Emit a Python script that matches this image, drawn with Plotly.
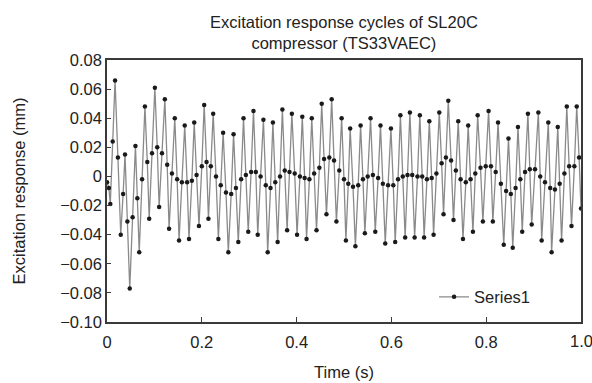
import plotly.graph_objects as go

# Time samples (s) and excitation response (mm)
time_s = [
    0.000, 0.004, 0.007, 0.012, 0.017, 0.023, 0.029, 0.034, 0.038, 0.043,
    0.048, 0.054, 0.060, 0.064, 0.068, 0.074, 0.080, 0.085, 0.089, 0.095,
    0.101, 0.106, 0.110, 0.116, 0.122, 0.127, 0.131, 0.137, 0.143, 0.148,
    0.152, 0.158, 0.164, 0.169, 0.173, 0.179, 0.184, 0.189, 0.194, 0.200,
    0.205, 0.210, 0.214, 0.219, 0.224, 0.230, 0.235, 0.240, 0.245, 0.251,
    0.256, 0.262, 0.267, 0.272, 0.277, 0.283, 0.288, 0.293, 0.298, 0.304,
    0.309, 0.314, 0.318, 0.324, 0.330, 0.335, 0.339, 0.345, 0.350, 0.355,
    0.360, 0.365, 0.370, 0.375, 0.380, 0.385, 0.390, 0.396, 0.401, 0.407,
    0.412, 0.417, 0.421, 0.427, 0.432, 0.437, 0.442, 0.448, 0.453, 0.458,
    0.463, 0.469, 0.474, 0.479, 0.484, 0.490, 0.495, 0.500, 0.504, 0.509,
    0.513, 0.519, 0.524, 0.530, 0.535, 0.540, 0.544, 0.550, 0.556, 0.561,
    0.566, 0.572, 0.577, 0.582, 0.587, 0.593, 0.599, 0.604, 0.608, 0.614,
    0.619, 0.624, 0.629, 0.634, 0.639, 0.644, 0.649, 0.655, 0.660, 0.665,
    0.669, 0.675, 0.680, 0.685, 0.689, 0.695, 0.701, 0.706, 0.710, 0.715,
    0.720, 0.726, 0.731, 0.736, 0.741, 0.746, 0.751, 0.757, 0.762, 0.767,
    0.772, 0.777, 0.782, 0.788, 0.793, 0.799, 0.805, 0.810, 0.814, 0.820,
    0.825, 0.831, 0.837, 0.842, 0.847, 0.852, 0.856, 0.862, 0.867, 0.872,
    0.876, 0.882, 0.888, 0.892, 0.896, 0.903, 0.910, 0.914, 0.917, 0.924,
    0.931, 0.935, 0.938, 0.945, 0.951, 0.955, 0.959, 0.965, 0.970, 0.975,
    0.980, 0.986, 0.991, 0.996, 1.000,
]
response_mm = [
    -0.004, -0.008, -0.019, 0.024, 0.066, 0.013, -0.040, -0.012, 0.015, -0.031,
    -0.077, -0.028, 0.021, -0.015, -0.052, -0.002, 0.048, 0.010, -0.029, 0.016,
    0.061, 0.020, -0.021, 0.016, 0.053, 0.008, -0.036, 0.002, 0.040, -0.002,
    -0.044, -0.004, 0.035, -0.004, -0.043, -0.003, 0.037, 0.001, -0.034, 0.007,
    0.049, 0.010, -0.029, 0.007, 0.043, 0.000, -0.043, -0.006, 0.030, -0.011,
    -0.052, -0.012, 0.029, -0.008, -0.045, -0.002, 0.040, 0.001, -0.038, 0.003,
    0.045, 0.003, -0.040, 0.000, 0.039, -0.006, -0.052, -0.008, 0.037, -0.004,
    -0.045, 0.000, 0.046, 0.004, -0.037, 0.003, 0.043, 0.002, -0.040, 0.000,
    0.041, -0.001, -0.043, -0.002, 0.040, 0.002, -0.037, 0.006, 0.050, 0.012,
    -0.026, 0.013, 0.053, 0.011, -0.031, 0.004, 0.040, -0.002, -0.044, -0.005,
    0.033, -0.007, -0.048, -0.006, 0.035, -0.002, -0.039, 0.000, 0.040, 0.001,
    -0.038, -0.001, 0.035, -0.005, -0.046, -0.006, 0.033, -0.006, -0.045, -0.002,
    0.042, 0.000, -0.042, 0.001, 0.044, 0.001, -0.042, 0.000, 0.042, 0.000,
    -0.042, -0.002, 0.038, -0.001, -0.040, 0.002, 0.044, 0.009, -0.026, 0.013,
    0.052, 0.011, -0.030, 0.004, 0.038, -0.002, -0.043, -0.004, 0.035, -0.002,
    -0.038, 0.002, 0.042, 0.006, -0.031, 0.007, 0.045, 0.007, -0.031, 0.003,
    0.037, -0.005, -0.047, -0.010, 0.026, -0.012, -0.049, -0.008, 0.034, -0.002,
    -0.038, 0.003, 0.043, 0.005, -0.033, 0.005, 0.044, 0.000, -0.044, -0.004,
    0.037, -0.008, -0.052, -0.009, 0.034, -0.005, -0.044, 0.002, 0.048, 0.007,
    -0.034, 0.007, 0.048, 0.013, -0.022,
]

x_tick_vals = [0, 0.2, 0.4, 0.6, 0.8, 1.0]
x_tick_text = ["0", "0.2", "0.4", "0.6", "0.8", "1.0"]
y_tick_vals = [0.08, 0.06, 0.04, 0.02, 0, -0.02, -0.04, -0.06, -0.08, -0.10]
y_tick_text = ["0.08", "0.06", "0.04", "0.02", "0", "\u22120.02", "\u22120.04",
               "\u22120.06", "\u22120.08", "\u22120.10"]

FONT = "Liberation Sans, Arial, sans-serif"
TXT = "#222222"
AX = "#3a3a3a"
FS = 16.5

fig = go.Figure()
fig.add_trace(go.Scatter(
    x=time_s, y=response_mm, name="Series1", mode="lines+markers",
    line=dict(color="#8a8a8a", width=1.3),
    marker=dict(color="#1a1a1a", size=4.5, symbol="circle"),
))

fig.add_annotation(
    text="Excitation response cycles of SL20C<br>compressor (TS33VAEC)",
    xref="paper", yref="paper", x=0.5, y=1, xanchor="center", yanchor="bottom",
    yshift=6, showarrow=False, align="center",
    font=dict(family=FONT, size=FS, color=TXT),
)

# The last x tick label sits at the very edge of the page; draw it as an
# annotation so plotly does not drop it.
fig.add_annotation(
    text=x_tick_text[-1], xref="x", yref="paper", x=x_tick_vals[-1], y=0,
    xanchor="center", yanchor="top", yshift=-8, showarrow=False,
    font=dict(family=FONT, size=FS, color=TXT),
)

fig.update_layout(
    width=592, height=383,
    margin=dict(l=107, r=11, t=60, b=61),
    paper_bgcolor="white", plot_bgcolor="white",
    font=dict(family=FONT, size=FS, color=TXT),
    showlegend=True,
    legend=dict(
        x=0.69, y=0.095, xanchor="left", yanchor="middle",
        bgcolor="rgba(0,0,0,0)", font=dict(family=FONT, size=FS, color=TXT),
    ),
    xaxis=dict(
        range=[0, 1.0], tickvals=x_tick_vals[:-1], ticktext=x_tick_text[:-1],
        showgrid=False, zeroline=False, showline=True, linecolor=AX,
        linewidth=1.5, mirror=True, ticks="inside", ticklen=5,
        tickcolor=AX, tickwidth=1, automargin=False, ticklabelstandoff=4,
        title=dict(text="Time (s)", standoff=17, font=dict(size=FS)),
        tickfont=dict(size=FS),
    ),
    yaxis=dict(
        range=[-0.10, 0.08], tickvals=y_tick_vals, ticktext=y_tick_text,
        showgrid=False, zeroline=False, showline=True, linecolor=AX,
        linewidth=1.5, mirror=True, ticks="inside", ticklen=4,
        tickcolor=AX, tickwidth=1, automargin=False,
        title=dict(text="Excitation response (mm)", standoff=30, font=dict(size=FS)),
        tickfont=dict(size=FS),
    ),
)

fig.write_html("out.html")
